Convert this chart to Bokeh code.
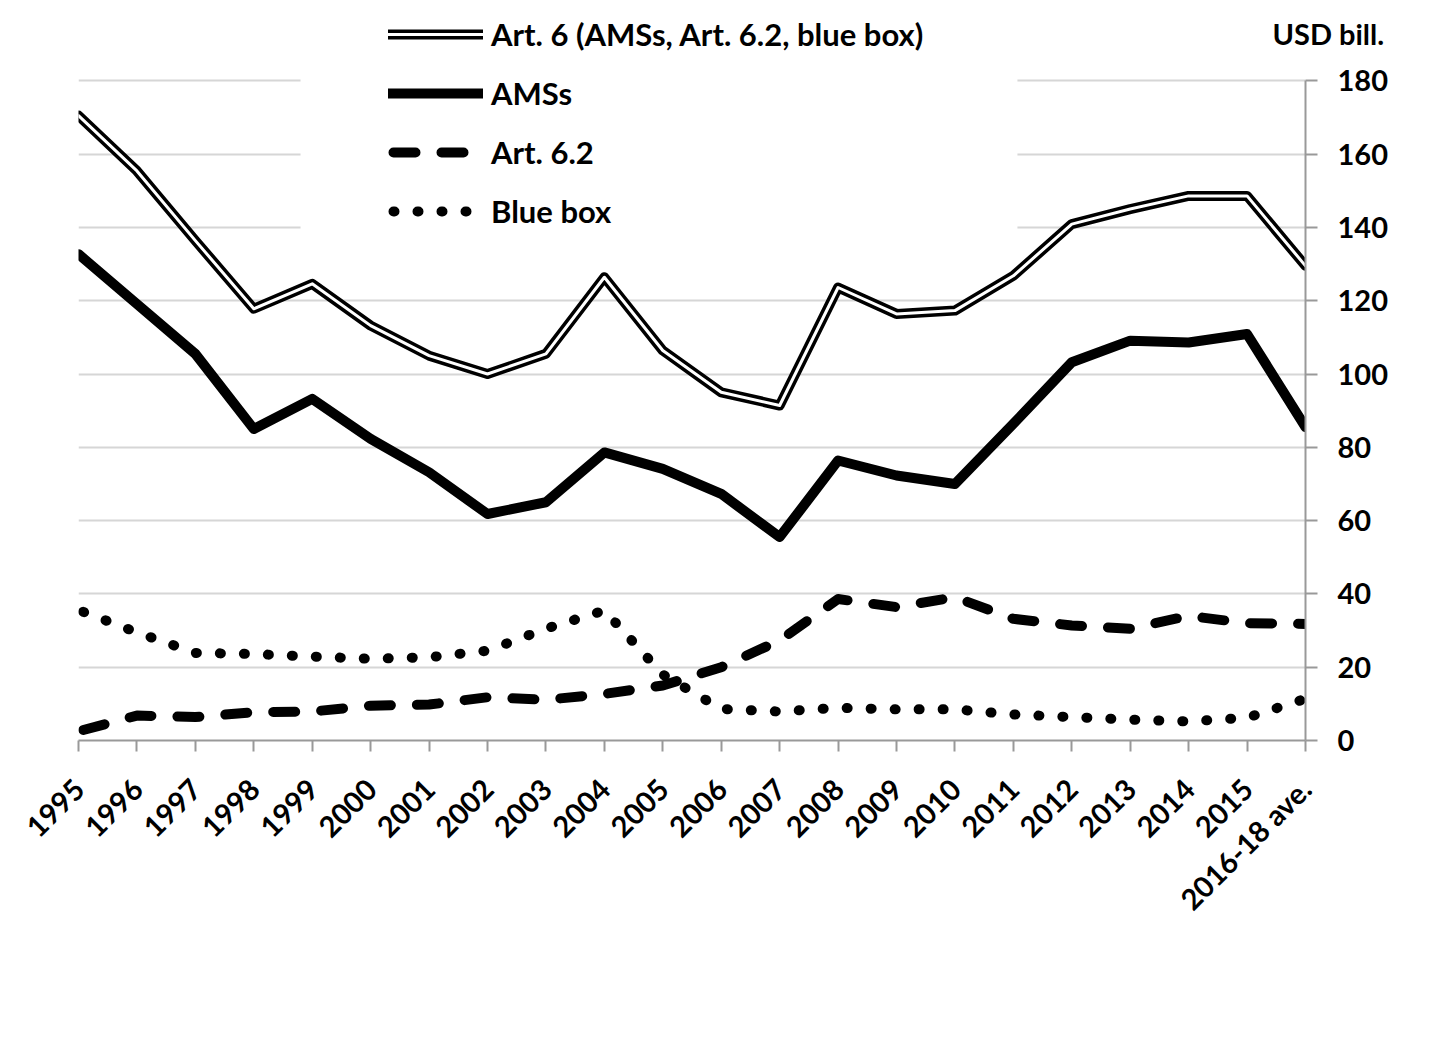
import math
from bokeh.plotting import figure
from bokeh.models import (FixedTicker, Legend, LegendItem, BoxAnnotation, LinearAxis, Range1d)
from bokeh.embed import file_html
from bokeh.resources import INLINE

categories = ["1995", "1996", "1997", "1998", "1999", "2000", "2001", "2002", "2003",
              "2004", "2005", "2006", "2007", "2008", "2009", "2010", "2011", "2012",
              "2013", "2014", "2015", "2016-18 ave."]
art6 = [170.5, 155.4, 136.4, 117.8, 124.6, 113.2, 105.0, 100.0, 105.5, 126.4, 106.4,
        95.0, 91.4, 123.6, 116.4, 117.3, 126.8, 140.9, 145.0, 148.6, 148.6, 129.5]
ams = [132.7, 119.1, 105.5, 85.0, 93.2, 82.3, 73.2, 61.8, 65.0, 78.6, 74.1,
       67.3, 55.5, 76.4, 72.3, 70.0, 86.4, 103.2, 109.1, 108.6, 110.9, 85.5]
art62 = [2.5, 6.8, 6.4, 7.7, 7.9, 9.5, 9.8, 11.8, 11.1, 12.7, 15.0,
         20.0, 27.3, 38.6, 36.4, 39.1, 33.2, 31.4, 30.5, 34.0, 32.0, 31.8]
bluebox = [35.6, 29.5, 23.9, 23.6, 22.9, 22.3, 22.7, 24.5, 30.5, 35.5, 18.0,
           8.6, 7.9, 8.9, 8.5, 8.5, 7.1, 6.4, 5.7, 5.2, 6.2, 11.4]
y_ticks = [0, 20, 40, 60, 80, 100, 120, 140, 160, 180]
labels = ["Art. 6 (AMSs, Art. 6.2, blue box)", "AMSs", "Art. 6.2", "Blue box"]
unit_label = "USD bill."

xs = list(range(len(categories)))
FONT = "Lato"

p = figure(width=1423, height=1036, output_backend="svg", toolbar_location=None,
           x_range=Range1d(0, len(categories) - 1), y_range=Range1d(0, 200),
           y_axis_location="right",
           min_border_left=78, min_border_right=118, min_border_top=7, min_border_bottom=296)
p.outline_line_color = None
p.background_fill_color = "white"
p.border_fill_color = "white"

# grid
p.xgrid.visible = False
p.ygrid.ticker = FixedTicker(ticks=y_ticks)
p.ygrid.grid_line_color = "#d6d6d6"
p.ygrid.grid_line_width = 2
p.ygrid.level = "image"

# y axis
ya = p.yaxis[0]
ya.ticker = FixedTicker(ticks=y_ticks)
ya.bounds = (0, 180)
ya.axis_line_color = "#999999"
ya.axis_line_width = 2
ya.major_tick_line_color = "#999999"
ya.major_tick_line_width = 2
ya.major_tick_in = 0
ya.major_tick_out = 12
ya.minor_tick_line_color = None
ya.major_label_standoff = 20
ya.major_label_text_font = FONT
ya.major_label_text_font_style = "bold"
ya.major_label_text_font_size = "29px"
ya.major_label_text_color = "black"

# unit text placed as a tick label of an extra, line-less right axis
ua = LinearAxis(ticker=FixedTicker(ticks=[193]), major_label_overrides={193: unit_label},
                axis_line_color=None, major_tick_line_color=None, minor_tick_line_color=None,
                major_tick_in=0, major_tick_out=0, major_label_standoff=-118,
                major_label_text_font=FONT, major_label_text_font_style="bold",
                major_label_text_font_size="29px", major_label_text_color="black")
p.add_layout(ua, "right")

# x axis
xa = p.xaxis[0]
xa.ticker = FixedTicker(ticks=xs)
xa.major_label_overrides = {i: c for i, c in enumerate(categories)}
xa.major_label_orientation = math.pi / 4
xa.axis_line_color = "#999999"
xa.axis_line_width = 2
xa.major_tick_line_color = "#999999"
xa.major_tick_line_width = 2
xa.major_tick_in = 0
xa.major_tick_out = 11
xa.minor_tick_line_color = None
xa.major_label_standoff = 32
xa.major_label_text_font = FONT
xa.major_label_text_font_style = "bold"
xa.major_label_text_font_size = "29px"
xa.major_label_text_color = "black"

# white area behind legend hiding gridlines
box = BoxAnnotation(left=3.8, right=16.07, bottom=131, top=None,
                    fill_color="white", fill_alpha=1.0, line_color=None, level="underlay")
p.add_layout(box)

r6o = p.line(xs, art6, line_color="black", line_width=10, line_join="round", line_cap="round")
r6i = p.line(xs, art6, line_color="white", line_width=3, line_join="round", line_cap="round")
rams = p.line(xs, ams, line_color="black", line_width=10, line_join="round", line_cap="round")
r62 = p.line(xs, art62, line_color="black", line_width=10, line_join="round", line_cap="round",
             line_dash="22 26", line_dash_offset=-5)
rbb = p.line(xs, bluebox, line_color="black", line_width=10, line_join="round", line_cap="round",
             line_dash="1 23", line_dash_offset=-5)

legend = Legend(items=[
    LegendItem(label=labels[0], renderers=[r6o, r6i]),
    LegendItem(label=labels[1], renderers=[rams]),
    LegendItem(label=labels[2], renderers=[r62]),
    LegendItem(label=labels[3], renderers=[rbb]),
], location=(310, 510), orientation="vertical",
    glyph_width=95, glyph_height=36, label_height=36, spacing=21,
    label_standoff=8, padding=0, margin=0,
    border_line_color=None, background_fill_alpha=0,
    label_text_font=FONT, label_text_font_style="bold", label_text_font_size="31px",
    label_text_color="black")
p.add_layout(legend, "center")

open("out.html", "w").write(file_html(p, INLINE))
